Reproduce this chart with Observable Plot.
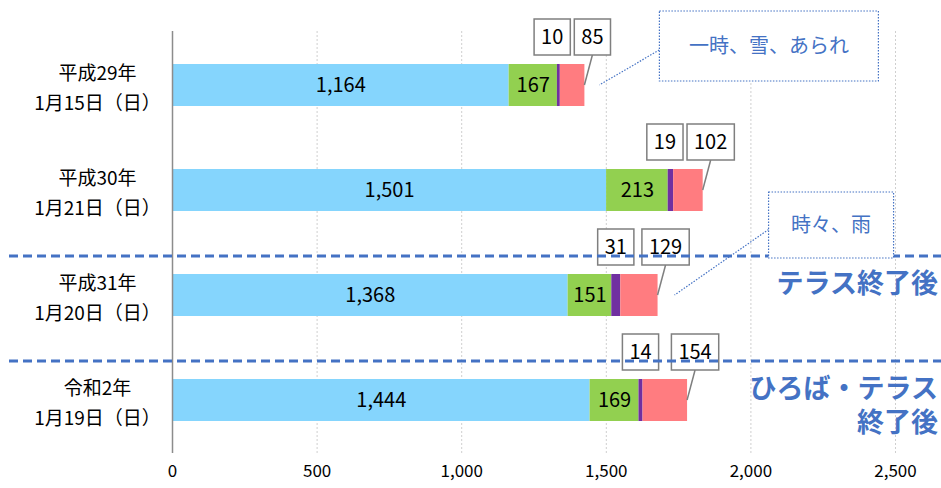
<!DOCTYPE html>
<html><head><meta charset="utf-8">
<script src="https://cdn.jsdelivr.net/npm/d3@7"></script>
<script src="https://cdn.jsdelivr.net/npm/@observablehq/plot@0.6"></script>
<style>
body{margin:0;background:#fff;}
#chart{width:941px;height:488px;overflow:hidden;}
</style></head><body><div id="chart"></div>
<script>
// ---- data ----
const dates = ["平成29年\n1月15日（日）", "平成30年\n1月21日（日）", "平成31年\n1月20日（日）", "令和2年\n1月19日（日）"];
const seriesNames = ["系列1", "系列2", "系列3", "系列4"];
const series1Values = [1164, 1501, 1368, 1444];
const series2Values = [167, 213, 151, 169];
const series3Values = [10, 19, 31, 14];
const series4Values = [85, 102, 129, 154];
const xTicks = [0, 500, 1000, 1500, 2000, 2500];
const noteDates = [dates[0], dates[2]];
const noteTexts = ["一時、雪、あられ", "時々、雨"];
const dividerDates = [dates[2], dates[3]];
const dividerTexts = ["テラス終了後", "ひろば・テラス\n終了後"];

// ---- styling / layout ----
const FONT = "'Noto Sans CJK JP', 'Noto Sans', sans-serif";
const seriesColors = ["#85D5FD", "#92D050", "#7030A0", "#FF7C80"];
const BLUE = "#4472C4";
const noteLayout = [
  {dx: 75, dy: -74, w: 219, h: 70, px: 15},
  {dx: 111, dy: -103, w: 125, h: 66, px: 17}
];

const allSeries = [series1Values, series2Values, series3Values, series4Values];
const rows = [];
dates.forEach((d, i) => seriesNames.forEach((s, j) => rows.push({date: d, series: s, value: allSeries[j][i]})));
const fmt = d3.format(",");

const plot = Plot.plot({
  width: 941, height: 488,
  marginLeft: 172, marginRight: 46, marginTop: 31, marginBottom: 35,
  style: {fontFamily: FONT, fontSize: "17px", color: "#000", background: "#fff"},
  x: {domain: [0, 2500], label: null},
  y: {domain: dates, range: [31, 453], paddingInner: 0.6, paddingOuter: 0.3, label: null, axis: null},
  color: {domain: seriesNames, range: seriesColors},
  marks: [
    Plot.gridX(xTicks.filter(d => d > 0), {stroke: "#cfcfcf", strokeOpacity: 1, strokeDasharray: "2,2"}),
    Plot.axisX({ticks: xTicks, tickSize: 0, tickPadding: 11, tickFormat: fmt, fontSize: 17, label: null}),
    Plot.barX(rows, Plot.stackX({x: "value", y: "date", fill: "series"})),
    Plot.text(rows.filter(r => r.series === seriesNames[0] || r.series === seriesNames[1]),
      Plot.stackX({x: "value", y: "date", text: d => fmt(d.value), fill: "#000", fontSize: 20})),
    Plot.ruleX([0], {stroke: "#8c8c8c", strokeWidth: 1.5}),
    Plot.text(dates, {y: d => d, text: d => d, frameAnchor: "left", dx: -75, textAnchor: "middle", lineHeight: 1.55, fontSize: 19, fill: "#000"})
  ]
});
document.getElementById("chart").append(plot);

const svg = d3.select(plot.tagName.toLowerCase() === "svg" ? plot : plot.querySelector("svg"));
const xs = plot.scale("x"), ys = plot.scale("y");
const X = v => xs.apply(v);
const Ytop = d => ys.apply(d);
const Yc = d => ys.apply(d) + ys.bandwidth / 2;
const W = 941;

// value boxes for series 3 and 4
const boxG = svg.append("g").attr("font-family", FONT).attr("font-size", 20).attr("text-anchor", "middle");
dates.forEach((d, i) => {
  const cy = Yc(d) - 48;
  const total = series1Values[i] + series2Values[i] + series3Values[i] + series4Values[i];
  const endX = X(total);
  const pX = X(series1Values[i] + series2Values[i] + series3Values[i] / 2);
  const mk = (txt) => {
    const g = boxG.append("g");
    const r = g.append("rect").attr("fill", "#fff").attr("stroke", "#7f7f7f").attr("stroke-width", 1.5);
    const t = g.append("text").attr("dy", "0.35em").attr("fill", "#000").text(txt);
    const w = t.node().getBBox().width + 14;
    return {g, r, t, w};
  };
  const pink = mk(fmt(series4Values[i]));
  const pc = endX + 8;
  const h = 36;
  pink.r.attr("x", pc - pink.w / 2).attr("y", cy - h / 2).attr("width", pink.w).attr("height", h);
  pink.t.attr("x", pc).attr("y", cy);
  boxG.insert("line", ":first-child").attr("x1", pc).attr("y1", cy + h / 2).attr("x2", endX).attr("y2", Yc(d))
    .attr("stroke", "#7f7f7f").attr("stroke-width", 1.5);
  const pur = mk(fmt(series3Values[i]));
  const uc = Math.min(pX, pc - pink.w / 2 - 4 - pur.w / 2);
  pur.r.attr("x", uc - pur.w / 2).attr("y", cy - h / 2).attr("width", pur.w).attr("height", h);
  pur.t.attr("x", uc).attr("y", cy);
});

// dashed dividers and their labels
dividerDates.forEach((d, i) => {
  const ly = Ytop(d) - 18;
  svg.append("line").attr("x1", 9).attr("x2", W).attr("y1", ly).attr("y2", ly)
    .attr("stroke", BLUE).attr("stroke-width", 3).attr("stroke-dasharray", "9,5");
  dividerTexts[i].split("\n").forEach((line, k) => {
    svg.append("text").attr("font-family", FONT).attr("font-size", 27).attr("font-weight", "bold")
      .attr("fill", BLUE).attr("text-anchor", "end")
      .attr("x", 938).attr("y", ly + 37 + k * 34).text(line);
  });
});

// weather callouts
noteDates.forEach((d, i) => {
  const idx = dates.indexOf(d);
  const total = series1Values[idx] + series2Values[idx] + series3Values[idx] + series4Values[idx];
  const endX = X(total), cy = Yc(d), L = noteLayout[i];
  const bx = endX + L.dx, by = cy + L.dy;
  svg.append("line").attr("x1", bx + 5).attr("y1", by + L.h / 2 + 1).attr("x2", endX + L.px).attr("y2", cy)
    .attr("stroke", BLUE).attr("stroke-width", 1.2).attr("stroke-dasharray", "1.5,1.5");
  svg.append("rect").attr("x", bx).attr("y", by).attr("width", L.w).attr("height", L.h)
    .attr("fill", "#fff").attr("stroke", BLUE).attr("stroke-width", 1.2).attr("stroke-dasharray", "1.5,1.5");
  svg.append("text").attr("x", bx + L.w / 2).attr("y", by + L.h / 2).attr("dy", "0.35em")
    .attr("font-family", FONT).attr("font-size", 20).attr("fill", BLUE).attr("text-anchor", "middle").text(noteTexts[i]);
});
</script>
</body></html>
